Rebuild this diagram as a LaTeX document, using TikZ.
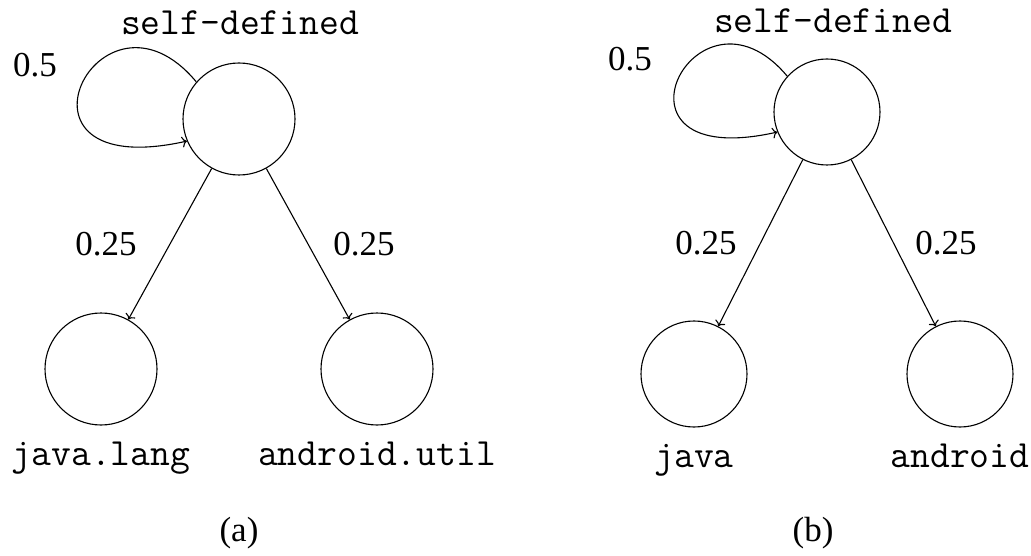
\documentclass[tikz,border=0pt]{standalone}
\usepackage{fontspec}
\setmainfont{Liberation Serif}
\usetikzlibrary{arrows.meta}
\begin{document}
\begin{tikzpicture}[x=1pt,y=-1pt,
  st/.style={draw,circle,line width=1.1pt,inner sep=0pt},
  conn/.style={-{To[length=5pt,width=11pt]},line width=1.1pt},
  prob/.style={font=\fontsize{35}{38}\selectfont},
  ttlabel/.style={font=\fontsize{38.5}{40}\selectfont\ttfamily,anchor=base},
  captxt/.style={font=\fontsize{35}{38}\selectfont,anchor=base}]
\useasboundingbox (0,0) rectangle (1031,556);
% (a)
\node[st,minimum size=112pt] (a0) at (239,119) {};
\node[st,minimum size=112pt] (a1) at (101,369) {};
\node[st,minimum size=112pt] (a2) at (377,369) {};
\node[ttlabel] (at) at (240,35) {self-defined};
\node[ttlabel] (al1) at (101,465) {java.lang};
\node[ttlabel] (al2) at (377,465) {android.util};
\node[prob] (ap0) at (35,65) {0.5};
\node[prob] (ap1) at (106,244) {0.25};
\node[prob] (ap2) at (364,244) {0.25};
\node[captxt] (acap) at (239,541) {(a)};
\draw[conn] (a0.139) .. controls (100,-34) and (-10,185) .. (a0.203);
\draw[conn] (a0) -- (a1);
\draw[conn] (a0) -- (a2);
% (b)
\node[st,minimum size=106pt] (b0) at (827,112) {};
\node[st,minimum size=106pt] (b1) at (694,374) {};
\node[st,minimum size=106pt] (b2) at (960,374) {};
\node[ttlabel] (bt) at (833,33) {self-defined};
\node[ttlabel] (bl1) at (694,467) {java};
\node[ttlabel] (bl2) at (960,467) {android};
\node[prob] (bp0) at (630,59) {0.5};
\node[prob] (bp1) at (706,243) {0.25};
\node[prob] (bp2) at (946,243) {0.25};
\node[captxt] (bcap) at (813,541) {(b)};
\draw[conn] (b0.138) .. controls (696,-33) and (591,174) .. (b0.202);
\draw[conn] (b0) -- (b1);
\draw[conn] (b0) -- (b2);
\end{tikzpicture}
\end{document}
